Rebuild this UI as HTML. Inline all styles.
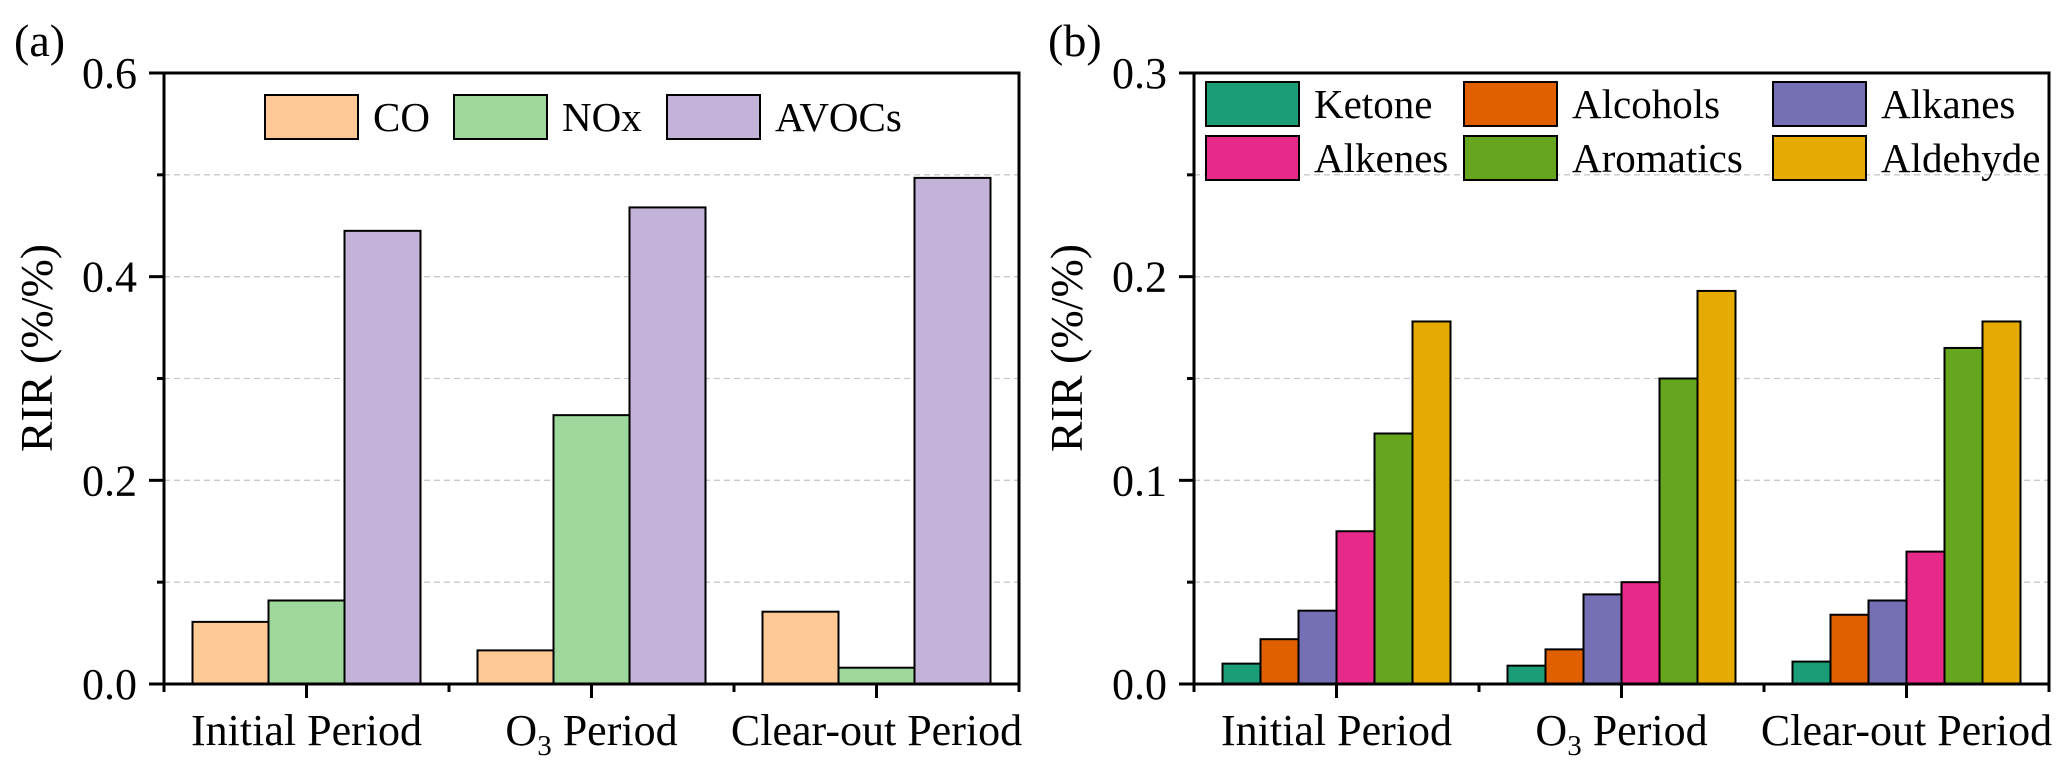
<!DOCTYPE html>
<html><head><meta charset="utf-8"><style>
html,body{margin:0;padding:0;background:#fff;}
svg{display:block;}
svg text{font-family:"Liberation Serif","Times New Roman",serif;}
</style></head><body>
<svg id="chart" width="2067" height="772" viewBox="0 0 2067 772" xmlns="http://www.w3.org/2000/svg" font-family="Liberation Serif, serif"></svg>
<script>
const categories = ["Initial Period", "O3 Period", "Clear-out Period"];
const seriesA = ["CO", "NOx", "AVOCs"];
const valuesA_CO = [0.061, 0.033, 0.071];
const valuesA_NOx = [0.082, 0.264, 0.016];
const valuesA_AVOCs = [0.445, 0.468, 0.497];
const ticksA = ["0.0", "0.2", "0.4", "0.6"];
const seriesB = ["Ketone", "Alcohols", "Alkanes", "Alkenes", "Aromatics", "Aldehyde"];
const valuesB_Ketone = [0.010, 0.009, 0.011];
const valuesB_Alcohols = [0.022, 0.017, 0.034];
const valuesB_Alkanes = [0.036, 0.044, 0.041];
const valuesB_Alkenes = [0.075, 0.050, 0.065];
const valuesB_Aromatics = [0.123, 0.150, 0.165];
const valuesB_Aldehyde = [0.178, 0.193, 0.178];
const ticksB = ["0.0", "0.1", "0.2", "0.3"];

const NS = "http://www.w3.org/2000/svg";
const svg = document.getElementById("chart");
const FONT = "Liberation Serif, Times New Roman, serif";
function mk(tag, attrs, parent) {
  const e = document.createElementNS(NS, tag);
  for (const k in attrs) e.setAttribute(k, attrs[k]);
  if (tag === "text") e.setAttribute("font-family", FONT);
  (parent || svg).appendChild(e);
  return e;
}

function drawPanel(opt) {
  const g = mk("g", {});
  
  
  const L = opt.left, R = opt.right, T = 73, B = 684;
  const y = v => B - (v / opt.ymax) * (B - T);
  const cw = (R - L) / categories.length;
  const cx = i => L + cw * (i + 0.5);
  for (let k = 1; k < opt.nMinor; k++) {
    const v = opt.ymax * k / opt.nMinor;
    const gl = mk("line", {x1: L, x2: R, y1: y(v), y2: y(v), stroke: "#c8c8c8", "stroke-width": 1.3, "stroke-dasharray": "6,4"}, g);
    
    
  }
  const n = opt.series.length;
  const bw = cw * 0.8 / n;
  opt.series.forEach((s, si) => {
    opt.values[si].forEach((v, ci) => {
      const x0 = cx(ci) - cw * 0.4 + si * bw;
      const r = mk("rect", {x: x0, y: y(v), width: bw, height: B - y(v), fill: opt.colors[si], stroke: "#000", "stroke-width": 2}, g);
      
      
    });
  });
  const fr = mk("rect", {x: L, y: T, width: R - L, height: B - T, fill: "none", stroke: "#000", "stroke-width": 3}, g);
  
  
  for (let k = 0; k <= opt.nMinor; k++) {
    const v = opt.ymax * k / opt.nMinor;
    const major = k % 2 === 0;
    mk("line", {x1: L - (major ? 15 : 7), x2: L, y1: y(v), y2: y(v), stroke: "#000", "stroke-width": 3}, g);
  }
  opt.ticks.forEach((t, i) => {
    const v = opt.ymax * i / (opt.ticks.length - 1);
    const tx = mk("text", {x: L - 27, y: y(v) + 15, "text-anchor": "end", "font-size": 44}, g);
    tx.textContent = t;
    
    
  });
  for (let i = 0; i <= categories.length; i++) {
    mk("line", {x1: L + cw * i, x2: L + cw * i, y1: B, y2: B + 8, stroke: "#000", "stroke-width": 3}, g);
  }
  categories.forEach((c, i) => {
    mk("line", {x1: cx(i), x2: cx(i), y1: B, y2: B + 14, stroke: "#000", "stroke-width": 3}, g);
    const tx = mk("text", {x: cx(i), y: 745, "text-anchor": "middle", "font-size": 44}, g);
    
    
    if (c.startsWith("O3")) {
      tx.appendChild(document.createTextNode("O"));
      const sub = mk("tspan", {"font-size": 29, dy: 10}, tx);
      sub.textContent = "3";
      const rest = mk("tspan", {dy: -10}, tx);
      rest.textContent = " Period";
    } else tx.textContent = c;
  });
  const yt = mk("text", {x: opt.titleX, y: 348, "text-anchor": "middle", "font-size": 46, transform: "rotate(-90 " + opt.titleX + " 348)"}, g);
  yt.textContent = "RIR (%/%)";
  
  
  const pl = mk("text", {x: opt.labelX, y: 56, "font-size": 46}, g);
  pl.textContent = opt.label;
  
  
  opt.legend.forEach((p, i) => {
    const r = mk("rect", {x: p[0], y: p[1], width: 93, height: 44, fill: opt.colors[i], stroke: "#000", "stroke-width": 2}, g);
    
    
    const t = mk("text", {x: p[0] + 108, y: p[1] + 36, "font-size": 41}, g);
    t.textContent = opt.series[i];
    
    
  });
}

drawPanel({
  name: "panel-a", left: 164, right: 1019, ymax: 0.6, nMinor: 6,
  ticks: ticksA, series: seriesA,
  values: [valuesA_CO, valuesA_NOx, valuesA_AVOCs],
  colors: ["#fec994", "#9fd89c", "#c3b3d8"],
  titleX: 52, label: "(a)", labelX: 14,
  legend: [[265, 95], [454, 95], [667, 95]]
});
drawPanel({
  name: "panel-b", left: 1194, right: 2049, ymax: 0.3, nMinor: 6,
  ticks: ticksB, series: seriesB,
  values: [valuesB_Ketone, valuesB_Alcohols, valuesB_Alkanes, valuesB_Alkenes, valuesB_Aromatics, valuesB_Aldehyde],
  colors: ["#1b9e77", "#e06000", "#7570b3", "#e7298a", "#66a61e", "#e6ab02"],
  titleX: 1082, label: "(b)", labelX: 1048,
  legend: [[1206, 82], [1464, 82], [1773, 82], [1206, 136], [1464, 136], [1773, 136]]
});
</script>
</body></html>
